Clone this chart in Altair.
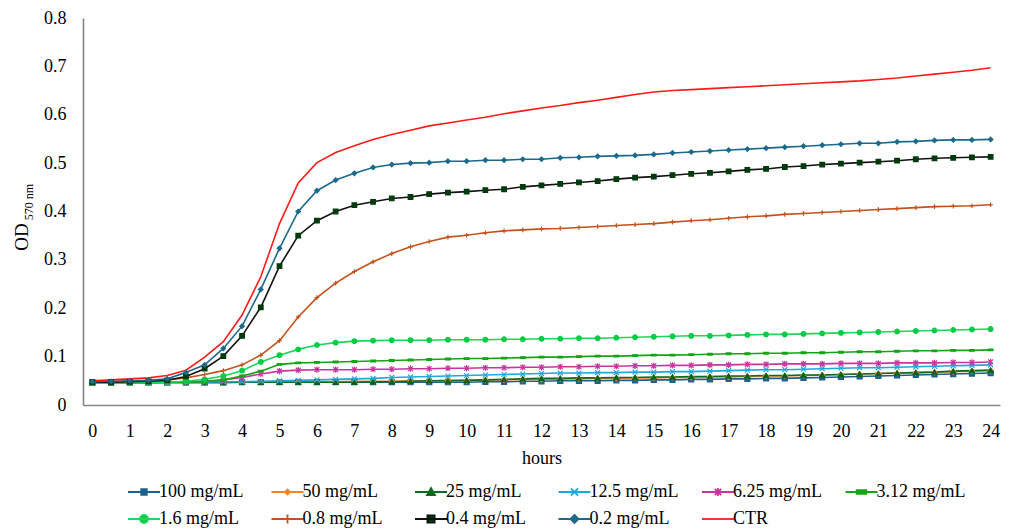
import altair as alt
import pandas as pd

FONT = "Liberation Serif"

hours = [0, 0.5, 1, 1.5, 2, 2.5, 3, 3.5, 4, 4.5, 5, 5.5, 6, 6.5, 7, 7.5, 8, 8.5,
         9, 9.5, 10, 10.5, 11, 11.5, 12, 12.5, 13, 13.5, 14, 14.5, 15, 15.5, 16,
         16.5, 17, 17.5, 18, 18.5, 19, 19.5, 20, 20.5, 21, 21.5, 22, 22.5, 23,
         23.5, 24]
hour_ticks = [0, 1, 2, 3, 4, 5, 6, 7, 8, 9, 10, 11, 12, 13, 14, 15, 16, 17, 18,
              19, 20, 21, 22, 23, 24]
od_ticks = [0, 0.1, 0.2, 0.3, 0.4, 0.5, 0.6, 0.7, 0.8]

od_100 = [0.047, 0.047, 0.047, 0.047, 0.047, 0.047, 0.047, 0.047, 0.047, 0.047,
          0.047, 0.047, 0.047, 0.047, 0.047, 0.047, 0.047, 0.047, 0.047, 0.047,
          0.047, 0.048, 0.048, 0.049, 0.049, 0.050, 0.050, 0.050, 0.051, 0.051,
          0.052, 0.052, 0.053, 0.053, 0.054, 0.054, 0.055, 0.055, 0.056, 0.057,
          0.058, 0.059, 0.060, 0.061, 0.062, 0.063, 0.064, 0.065, 0.066]
od_50 = [0.047, 0.047, 0.047, 0.047, 0.047, 0.047, 0.047, 0.047, 0.047, 0.047,
         0.048, 0.048, 0.048, 0.048, 0.049, 0.049, 0.049, 0.050, 0.050, 0.051,
         0.051, 0.052, 0.052, 0.053, 0.053, 0.054, 0.054, 0.055, 0.055, 0.056,
         0.056, 0.057, 0.057, 0.058, 0.058, 0.059, 0.060, 0.060, 0.061, 0.062,
         0.063, 0.064, 0.065, 0.066, 0.067, 0.068, 0.069, 0.070, 0.071]
od_25 = [0.046, 0.046, 0.046, 0.046, 0.046, 0.046, 0.046, 0.046, 0.047, 0.047,
         0.047, 0.047, 0.047, 0.047, 0.047, 0.048, 0.048, 0.049, 0.050, 0.050,
         0.051, 0.052, 0.053, 0.054, 0.055, 0.055, 0.056, 0.056, 0.057, 0.057,
         0.058, 0.058, 0.059, 0.059, 0.060, 0.060, 0.061, 0.061, 0.062, 0.062,
         0.063, 0.064, 0.065, 0.066, 0.067, 0.068, 0.070, 0.071, 0.072]
od_12_5 = [0.047, 0.047, 0.047, 0.047, 0.047, 0.047, 0.047, 0.048, 0.048, 0.049,
           0.050, 0.051, 0.052, 0.053, 0.054, 0.055, 0.057, 0.058, 0.059, 0.060,
           0.061, 0.062, 0.063, 0.064, 0.065, 0.066, 0.066, 0.067, 0.067, 0.068,
           0.068, 0.069, 0.069, 0.070, 0.071, 0.072, 0.073, 0.073, 0.074, 0.075,
           0.076, 0.077, 0.077, 0.078, 0.079, 0.080, 0.081, 0.082, 0.083]
od_6_25 = [0.047, 0.047, 0.047, 0.047, 0.047, 0.048, 0.049, 0.052, 0.057, 0.064,
           0.070, 0.072, 0.073, 0.073, 0.073, 0.074, 0.074, 0.075, 0.075, 0.076,
           0.076, 0.077, 0.077, 0.078, 0.078, 0.079, 0.079, 0.080, 0.080, 0.081,
           0.081, 0.082, 0.082, 0.083, 0.083, 0.084, 0.084, 0.085, 0.085, 0.085,
           0.086, 0.086, 0.086, 0.087, 0.087, 0.087, 0.088, 0.088, 0.089]
od_3_12 = [0.046, 0.046, 0.046, 0.046, 0.047, 0.047, 0.048, 0.052, 0.060, 0.070,
           0.084, 0.087, 0.088, 0.089, 0.090, 0.091, 0.092, 0.093, 0.094, 0.095,
           0.096, 0.096, 0.097, 0.098, 0.099, 0.099, 0.100, 0.101, 0.101, 0.102,
           0.103, 0.103, 0.104, 0.105, 0.106, 0.106, 0.107, 0.107, 0.108, 0.108,
           0.109, 0.110, 0.110, 0.111, 0.112, 0.112, 0.113, 0.113, 0.114]
od_1_6 = [0.046, 0.046, 0.046, 0.047, 0.047, 0.049, 0.053, 0.060, 0.071, 0.089,
          0.103, 0.115, 0.124, 0.129, 0.132, 0.133, 0.134, 0.134, 0.134, 0.135,
          0.135, 0.135, 0.136, 0.136, 0.137, 0.137, 0.138, 0.138, 0.139, 0.140,
          0.141, 0.142, 0.143, 0.143, 0.144, 0.145, 0.146, 0.146, 0.147, 0.148,
          0.149, 0.150, 0.151, 0.152, 0.153, 0.154, 0.155, 0.156, 0.157]
od_0_8 = [0.048, 0.048, 0.049, 0.050, 0.052, 0.056, 0.063, 0.071, 0.083, 0.103,
          0.133, 0.182, 0.222, 0.252, 0.276, 0.296, 0.313, 0.327, 0.338, 0.347,
          0.351, 0.356, 0.360, 0.362, 0.364, 0.365, 0.367, 0.369, 0.371, 0.373,
          0.375, 0.378, 0.381, 0.383, 0.386, 0.389, 0.391, 0.394, 0.396, 0.398,
          0.400, 0.402, 0.404, 0.406, 0.408, 0.410, 0.411, 0.412, 0.414]
od_0_4 = [0.047, 0.047, 0.048, 0.049, 0.051, 0.059, 0.075, 0.101, 0.143, 0.202,
          0.287, 0.350, 0.381, 0.400, 0.413, 0.420, 0.427, 0.430, 0.436, 0.439,
          0.441, 0.444, 0.446, 0.451, 0.454, 0.457, 0.460, 0.463, 0.467, 0.470,
          0.472, 0.475, 0.478, 0.480, 0.483, 0.486, 0.488, 0.492, 0.494, 0.497,
          0.499, 0.501, 0.503, 0.505, 0.508, 0.510, 0.511, 0.512, 0.513]
od_0_2 = [0.048, 0.049, 0.050, 0.051, 0.054, 0.067, 0.083, 0.117, 0.163, 0.239,
          0.324, 0.400, 0.443, 0.465, 0.479, 0.491, 0.497, 0.500, 0.501, 0.504,
          0.504, 0.506, 0.506, 0.508, 0.508, 0.511, 0.512, 0.514, 0.515, 0.516,
          0.518, 0.521, 0.523, 0.525, 0.527, 0.529, 0.531, 0.533, 0.535, 0.537,
          0.539, 0.541, 0.541, 0.544, 0.545, 0.547, 0.548, 0.548, 0.549]
od_ctr = [0.050, 0.052, 0.054, 0.056, 0.061, 0.072, 0.099, 0.131, 0.186, 0.265,
          0.375, 0.459, 0.501, 0.522, 0.536, 0.549, 0.559, 0.568, 0.577, 0.583,
          0.589, 0.595, 0.602, 0.608, 0.614, 0.619, 0.625, 0.630, 0.636, 0.642,
          0.647, 0.650, 0.652, 0.654, 0.656, 0.658, 0.660, 0.662, 0.664, 0.666,
          0.668, 0.670, 0.673, 0.676, 0.680, 0.684, 0.688, 0.692, 0.697]

series_names = ["100 mg/mL", "50 mg/mL", "25 mg/mL", "12.5 mg/mL", "6.25 mg/mL",
                "3.12 mg/mL", "1.6 mg/mL", "0.8 mg/mL", "0.4 mg/mL", "0.2 mg/mL",
                "CTR"]
series_values = [od_100, od_50, od_25, od_12_5, od_6_25, od_3_12, od_1_6,
                 od_0_8, od_0_4, od_0_2, od_ctr]

line_colors = ["#1F5F8B", "#F58220", "#0B6B1E", "#1EA7E1", "#C8359E",
               "#14A514", "#1BD75A", "#C4521C", "#111111", "#1B6A8C", "#FF1A1A"]
marker_colors = ["#1F5F8B", "#F58220", "#006414", "#1EA7E1", "#C8359E",
                 "#14A514", "#00CC44", "#C4521C", "#003A0C", "#1B6A8C", "#FF1A1A"]

# Plot markers, in a [-1, 1] box
X_PATH = "M-1,-1L1,1M-1,1L1,-1"
STAR_PATH = "M-1,-1L1,1M-1,1L1,-1M0,-1.3V1.3"
DASH_PATH = "M-1,-0.35H1V0.35H-1Z"
PLUS_PATH = "M-1,0H1M0,-1V1"
marker_shapes = ["square", "diamond", "triangle-up", X_PATH, STAR_PATH,
                 DASH_PATH, "circle", PLUS_PATH, "square", "diamond", "circle"]
marker_sizes = [25, 20, 80, 45, 45, 100, 100, 60, 100, 90, 0]

# Legend swatches: a 32px line segment with the marker in the middle
# (unit = 8px at symbolSize 256)
legend_shapes = [
    "M-2,0H2M-0.35,-0.35H0.35V0.35H-0.35Z",
    "M-2,0H2M0,-0.3L0.3,0L0,0.3L-0.3,0Z",
    "M-2,0H2M-0.5,0.4L0.5,0.4L0,-0.5Z",
    "M-2,0H2M-0.45,-0.45L0.45,0.45M-0.45,0.45L0.45,-0.45",
    "M-2,0H2M-0.4,-0.4L0.4,0.4M-0.4,0.4L0.4,-0.4M0,-0.5V0.5",
    "M-2,0H2M-0.6,-0.22H0.6V0.22H-0.6Z",
    "M-2,0H2M-0.5,0A0.5,0.5 0 1,0 0.5,0A0.5,0.5 0 1,0 -0.5,0Z",
    "M-2,0H2M0,-0.55V0.55",
    "M-2,0H2M-0.45,-0.45H0.45V0.45H-0.45Z",
    "M-2,0H2M0,-0.5L0.5,0L0,0.5L-0.5,0Z",
    "M-2,0H2",
]

rows = []
for order, (name, vals) in enumerate(zip(series_names, series_values)):
    for h, v in zip(hours, vals):
        rows.append({"series": name, "order": order, "hour": h, "od": v})
df = pd.DataFrame(rows)


def x_enc():
    return alt.X(
        "hour:Q",
        scale=alt.Scale(domain=[-0.25, 24.25], nice=False, zero=False),
        axis=alt.Axis(values=hour_ticks, format="d", title="hours",
                      grid=False, ticks=False, labelPadding=17, titlePadding=9,
                      labelOverlap=False, labelFlush=False, tickCount=25,
                      domainColor="#868686", domainWidth=1.6),
    )


def y_enc():
    return alt.Y(
        "od:Q",
        scale=alt.Scale(domain=[0, 0.8], nice=False),
        axis=alt.Axis(values=od_ticks, format="~g", title=None, grid=False,
                      ticks=False, labelPadding=17, labelOverlap=False,
                      labelFlush=False, domainColor="#868686", domainWidth=1.6),
    )


base = alt.Chart(df)

lines = base.mark_line(strokeWidth=1.6).encode(
    x=x_enc(),
    y=y_enc(),
    color=alt.Color("series:N", scale=alt.Scale(domain=series_names, range=line_colors),
                    legend=None),
    detail="order:O",
)

markers = base.transform_filter(alt.datum.series != "CTR").mark_point(
    filled=True, strokeWidth=1.2, opacity=1
).encode(
    x=x_enc(),
    y=y_enc(),
    fill=alt.Fill("series:N", scale=alt.Scale(domain=series_names, range=marker_colors),
                  legend=None),
    stroke=alt.Stroke("series:N", scale=alt.Scale(domain=series_names, range=marker_colors),
                      legend=None),
    shape=alt.Shape("series:N", scale=alt.Scale(domain=series_names, range=marker_shapes),
                    legend=None),
    size=alt.Size("series:N", scale=alt.Scale(domain=series_names, range=marker_sizes),
                  legend=None),
    order="order:Q",
)

legend_spec = alt.Legend(
    title=None, orient="none", legendX=52, legendY=465, columns=6,
    direction="horizontal",
    symbolSize=256, symbolStrokeWidth=1.8, symbolOpacity=1,
    labelFont=FONT, labelFontSize=18, labelColor="#000000", labelOffset=6,
    columnPadding=19.5, rowPadding=9, gridAlign="all", labelLimit=200,
)

legend_layer = base.transform_filter(alt.datum.hour == 0).mark_point(
    filled=True, opacity=0
).encode(
    fill=alt.Fill("series:N", scale=alt.Scale(domain=series_names, range=marker_colors),
                  legend=legend_spec, sort=series_names),
    stroke=alt.Stroke("series:N", scale=alt.Scale(domain=series_names, range=line_colors),
                      legend=legend_spec, sort=series_names),
    shape=alt.Shape("series:N", scale=alt.Scale(domain=series_names, range=legend_shapes),
                    legend=legend_spec, sort=series_names),
)

# y-axis title with a subscript
od_title = alt.Chart(pd.DataFrame({"t": ["OD"]})).mark_text(
    angle=270, font=FONT, fontSize=19, align="center", baseline="middle", color="#000000"
).encode(text="t:N", x=alt.value(-61), y=alt.value(219))
od_sub = alt.Chart(pd.DataFrame({"t": ["570 nm"]})).mark_text(
    angle=270, font=FONT, fontSize=12, align="center", baseline="middle", color="#000000"
).encode(text="t:N", x=alt.value(-54), y=alt.value(184))

chart = alt.layer(lines, markers, legend_layer, od_title, od_sub).resolve_scale(
    color="independent", fill="independent", stroke="independent",
    shape="independent", size="independent",
).properties(
    width=917,
    height=387,
    autosize=alt.AutoSizeParams(type="none"),
    padding={"left": 83, "top": 18, "right": 14, "bottom": 127},
    background="white",
).configure_view(stroke=None).configure_axis(
    labelFont=FONT, labelFontSize=18, labelColor="#000000", labelOverlap=False,
    titleFont=FONT, titleFontSize=18, titleColor="#000000", titleFontWeight="normal",
)

chart.save("out.html", embed_options={"renderer": "svg", "actions": False})
